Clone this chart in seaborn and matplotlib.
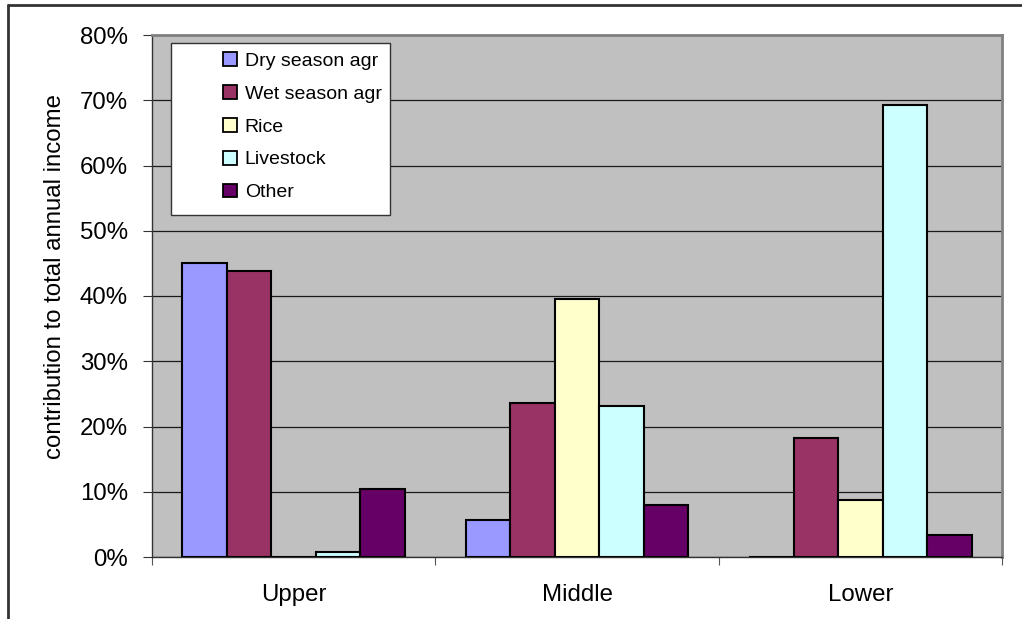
import matplotlib
matplotlib.use("Agg")
import matplotlib.pyplot as plt
from matplotlib.patches import Rectangle
from matplotlib.ticker import PercentFormatter, FixedLocator
import seaborn as sns
import pandas as pd

# Share of total annual income by source, per zone
zones = ["Upper", "Middle", "Lower"]
sources = ["Dry season agr", "Wet season agr", "Rice", "Livestock", "Other"]
dry_season = [0.450, 0.057, 0.000]
wet_season = [0.438, 0.236, 0.183]
rice = [0.000, 0.395, 0.088]
livestock = [0.008, 0.232, 0.693]
other = [0.104, 0.079, 0.033]
colors = ["#9999FF", "#993366", "#FFFFCC", "#CCFFFF", "#660066"]

series = [dry_season, wet_season, rice, livestock, other]
df = pd.DataFrame(
    [(z, s, v[i]) for s, v in zip(sources, series) for i, z in enumerate(zones)],
    columns=["zone", "source", "share"],
)

sns.set_theme(style="white")
plt.rcParams["font.family"] = ["Liberation Sans", "DejaVu Sans"]

W, H = 1022, 619
fig = plt.figure(figsize=(W / 100, H / 100), dpi=100)
fig.patch.set_facecolor("white")

L, R, T, B = 152, 1002, 35, 557
ax = fig.add_axes([L / W, 1 - B / H, (R - L) / W, (B - T) / H])
ax.set_facecolor("#C0C0C0")

sns.barplot(
    data=df, x="zone", y="share", hue="source", hue_order=sources,
    order=zones, palette=colors, width=0.785, gap=0,
    edgecolor="black", linewidth=1.5, saturation=1, ax=ax, zorder=3,
)

ax.set_ylim(0, 0.8)
ax.set_xlim(-0.5, 2.5)
ax.yaxis.set_major_locator(FixedLocator([i / 10 for i in range(9)]))
ax.yaxis.set_major_formatter(PercentFormatter(1.0, decimals=0))
ax.yaxis.grid(True, color="#1a1a1a", linewidth=0.9, zorder=1)
ax.set_axisbelow(True)

ax.set_xlabel("")
ax.set_ylabel("")
ax.tick_params(axis="y", which="major", direction="out", length=6.5, width=0.8,
               color="#333333", labelsize=17.3, pad=10.8, left=True,
               labelcolor="black")
ax.tick_params(axis="x", which="major", length=0, labelsize=17.3, pad=19.5,
               labelcolor="black")
ax.set_xticks([-0.5, 0.5, 1.5, 2.5], minor=True)
ax.tick_params(axis="x", which="minor", direction="out", length=5.8, width=0.8,
               color="#555555", bottom=True)

for side in ["left", "bottom"]:
    ax.spines[side].set_color("#333333")
    ax.spines[side].set_linewidth(1.0)
for side in ["top", "right"]:
    ax.spines[side].set_color("#808080")
    ax.spines[side].set_linewidth(2.0)

fig.text(55 / W, 1 - 276 / H, "contribution to total annual income",
         rotation=90, ha="center", va="center", fontsize=17.3, color="black")

# Legend box and entries
handles, labels = ax.get_legend_handles_labels()
ax.get_legend().remove()
box = Rectangle((171 / W, 1 - 215 / H), (390 - 171) / W, (215 - 43) / H,
                transform=fig.transFigure, facecolor="white",
                edgecolor="#333333", linewidth=1.0, zorder=5)
fig.patches.append(box)
leg = fig.legend(
    handles, labels, loc="upper left",
    bbox_to_anchor=(223 / W, 1 - 52 / H), bbox_transform=fig.transFigure,
    frameon=False, fontsize=14, handlelength=0.72, handleheight=0.72,
    handletextpad=0.4, labelspacing=0.78, borderpad=0, borderaxespad=0,
    labelcolor="black",
)
leg.set_zorder(6)
for h in leg.legend_handles:
    h.set_edgecolor("black")
    h.set_linewidth(1.3)

# Outer chart frame (left and top edges)
fig.add_artist(plt.Line2D([8 / W, 8 / W], [0, 1 - 5 / H], transform=fig.transFigure,
                          color="#333333", linewidth=2.0))
fig.add_artist(plt.Line2D([8 / W, 1], [1 - 5 / H, 1 - 5 / H], transform=fig.transFigure,
                          color="#333333", linewidth=2.0))

fig.savefig("out.png", dpi=100, facecolor="white")
